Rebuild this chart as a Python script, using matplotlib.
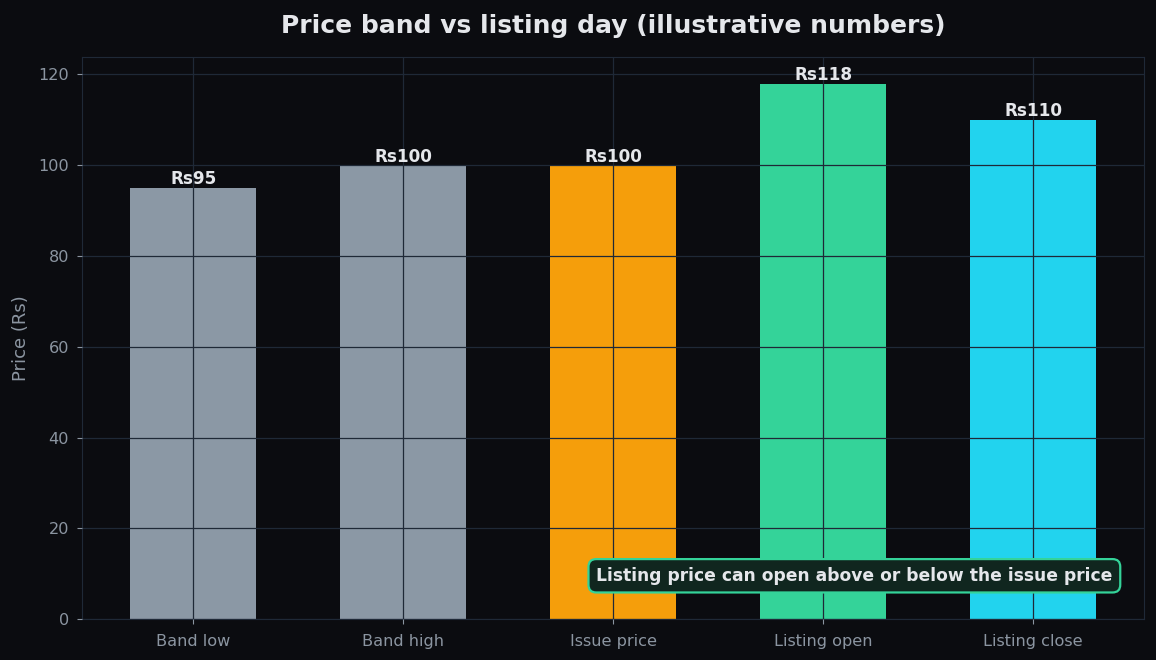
import matplotlib.pyplot as plt

# Data
labels = ["Band low", "Band high", "Issue price", "Listing open", "Listing close"]
prices = [95, 100, 100, 118, 110]
colors = ["#8b98a5", "#8b98a5", "#f59e0b", "#34d399", "#22d3ee"]

bg = "#0b0c10"
fig, ax = plt.subplots(figsize=(11.56, 6.6), dpi=100)
fig.patch.set_facecolor(bg)
ax.set_facecolor(bg)

bars = ax.bar(labels, prices, width=0.6, color=colors)

# value labels on top of the bars
for b, v in zip(bars, prices):
    ax.text(b.get_x() + b.get_width() / 2, v - 0.1, f"Rs{v}",
            ha="center", va="bottom", fontsize=12.2, fontweight="bold", color="#e5e7eb")

ax.set_title("Price band vs listing day (illustrative numbers)",
             fontsize=18, fontweight="bold", color="#e5e7eb", pad=17)
ax.set_ylabel("Price (Rs)", fontsize=13, color="#8b95a1", labelpad=6)

ax.grid(True, color="#1f2937", linewidth=0.9)
ax.set_axisbelow(False)
ax.tick_params(colors="#8b95a1", labelsize=11.6)
ax.tick_params(axis="x", pad=7)
ax.tick_params(axis="y", pad=6)
for s in ax.spines.values():
    s.set_color("#1f2937")

ax.text(0.97, 0.077, "Listing price can open above or below the issue price",
        transform=ax.transAxes, ha="right", va="center", fontsize=12.3,
        fontweight="bold", color="#e5e7eb",
        bbox=dict(boxstyle="round,pad=0.45", facecolor="#10261f",
                  edgecolor="#34d399", linewidth=1.6))

plt.subplots_adjust(left=0.071, right=0.99, top=0.914, bottom=0.062)
plt.savefig("out.png", facecolor=bg)
